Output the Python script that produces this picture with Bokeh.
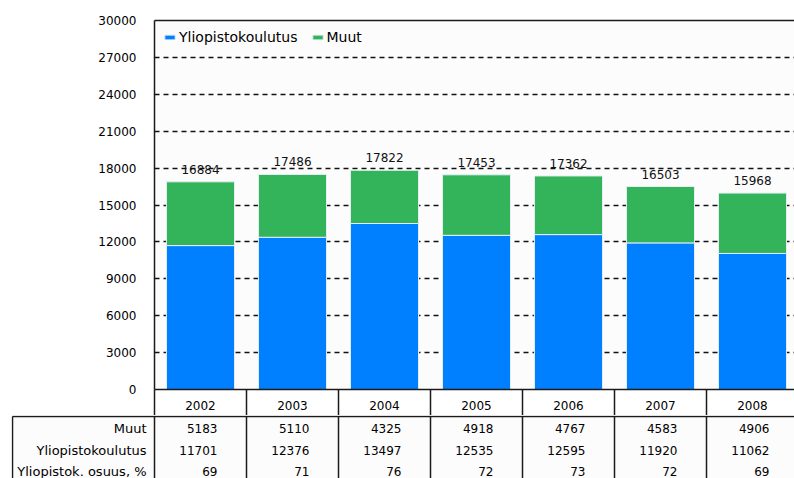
from bokeh.plotting import figure
from bokeh.models import ColumnDataSource, Range1d, FixedTicker, LinearAxis
from bokeh.layouts import column
from bokeh.core.properties import value
from bokeh.embed import file_html
from bokeh.resources import INLINE

# ---- data ----
years = ["2002", "2003", "2004", "2005", "2006", "2007", "2008"]
muut = [5183, 5110, 4325, 4918, 4767, 4583, 4906]
yliopisto = [11701, 12376, 13497, 12535, 12595, 11920, 11062]
osuus = [69, 71, 76, 72, 73, 72, 69]
row_labels = ["Muut", "Yliopistokoulutus", "Yliopistok. osuus, %"]
y_ticks = [0, 3000, 6000, 9000, 12000, 15000, 18000, 21000, 24000, 27000, 30000]

# ---- layout constants (pixels) ----
W = 794
FRAME_LEFT = 154          # frame starts at page x 154
CAT_PX = 92               # width of one category
TOP_BORDER = 20
PLOT_H = 369
AXIS_PANEL = 26
TOP_H = TOP_BORDER + PLOT_H + AXIS_PANEL
BOT_H = 478 - TOP_H
BOT_LEFT = 11             # bottom frame starts at page x 11
ROW_PX = 21.5
FIRST_ROW_PX = 13         # first table row centre, px below bottom frame top

FONT = value("DejaVu Sans")
LINE = "#1a1a1a"
BLUE = "#0080ff"
GREEN = "#33b35a"
BG = "#fcfcfc"

n = len(years)
x_end = (W - FRAME_LEFT) / CAT_PX
xs = [i + 0.5 for i in range(n)]
totals = [a + b for a, b in zip(muut, yliopisto)]

src = ColumnDataSource(dict(x=xs, yliopisto=yliopisto, muut=muut,
                            total=totals, label=[str(t) for t in totals]))

# ---- chart figure ----
p = figure(width=W, height=TOP_H, output_backend="svg", toolbar_location=None,
           x_range=Range1d(0, x_end), y_range=Range1d(0, 30000),
           min_border_left=FRAME_LEFT, min_border_right=0,
           min_border_top=TOP_BORDER, min_border_bottom=AXIS_PANEL,
           frame_align=False)
p.background_fill_color = BG
p.border_fill_color = "#ffffff"
p.outline_line_color = None

p.vbar_stack(["yliopisto", "muut"], x="x", width=0.74, source=src,
             color=[BLUE, GREEN], line_color="#e6eef6", line_width=1,
             legend_label=["Yliopistokoulutus", "Muut"])

p.text(x="x", y="total", text="label", source=src, text_align="center",
       text_baseline="bottom", y_offset=-8, text_font=FONT,
       text_font_size="12px", text_color="#111111")

# y axis
yax = p.yaxis[0]
yax.ticker = FixedTicker(ticks=y_ticks)
yax.major_tick_out = 0
yax.major_tick_in = 0
yax.minor_tick_out = 0
yax.minor_tick_in = 0
yax.axis_line_color = LINE
yax.axis_line_width = 1.5
yax.major_label_standoff = 18
yax.major_label_text_font = "DejaVu Sans"
yax.major_label_text_font_size = "12px"
yax.major_label_text_color = "#000000"

# x axis (year row of the table)
xax = p.xaxis[0]
xax.ticker = FixedTicker(ticks=xs, minor_ticks=list(range(0, n)))
xax.major_label_overrides = {x: y for x, y in zip(xs, years)}
xax.major_tick_out = 0
xax.major_tick_in = 0
xax.minor_tick_out = AXIS_PANEL
xax.minor_tick_in = 0
xax.minor_tick_line_color = LINE
xax.minor_tick_line_width = 1.5
xax.axis_line_color = LINE
xax.axis_line_width = 1.5
xax.major_label_standoff = -15
xax.major_label_text_font = "DejaVu Sans"
xax.major_label_text_font_size = "12px"
xax.major_label_text_color = "#000000"

# top border line
top_ax = LinearAxis(ticker=FixedTicker(ticks=[]), major_tick_out=0, major_tick_in=0,
                    minor_tick_out=0, minor_tick_in=0, major_label_standoff=0,
                    axis_line_color=LINE, axis_line_width=1.5)
p.add_layout(top_ax, "above")

p.xgrid.visible = False
p.ygrid.ticker = FixedTicker(ticks=y_ticks[1:-1])
p.ygrid.grid_line_color = "#111111"
p.ygrid.grid_line_dash = "5 4"
p.ygrid.grid_line_width = 1.5

leg = p.legend[0]
leg.location = "top_left"
leg.orientation = "horizontal"
leg.background_fill_alpha = 0
leg.border_line_alpha = 0
leg.glyph_width = 13
leg.glyph_height = 6
leg.label_height = 12
leg.label_standoff = 3
leg.spacing = 13
leg.padding = 7
leg.margin = 2
leg.label_text_font = "DejaVu Sans"
leg.label_text_font_size = "14px"
leg.label_text_color = "#000000"

# ---- table figure ----
bx_start = -(FRAME_LEFT - BOT_LEFT) / CAT_PX
r_top = -FIRST_ROW_PX / ROW_PX
r_bot = (BOT_H - FIRST_ROW_PX) / ROW_PX
t = figure(width=W, height=BOT_H, output_backend="svg", toolbar_location=None,
           x_range=Range1d(bx_start, x_end), y_range=Range1d(r_bot, r_top),
           x_axis_location=None, y_axis_location=None,
           min_border_left=BOT_LEFT, min_border_right=0,
           min_border_top=0, min_border_bottom=0, frame_align=False)
t.background_fill_color = BG
t.border_fill_color = "#ffffff"
t.outline_line_color = None
t.grid.visible = False

line_r = r_top + 1 / ROW_PX
left_x = bx_start + 1 / CAT_PX
# horizontal header line and vertical separators
t.segment(x0=[left_x], y0=[line_r], x1=[x_end], y1=[line_r],
          line_color=LINE, line_width=1.5)
vx = [left_x] + list(range(0, n))
t.segment(x0=vx, y0=[line_r] * len(vx), x1=vx, y1=[r_bot] * len(vx),
          line_color=LINE, line_width=1.5)

# row labels
lab_src = ColumnDataSource(dict(x=[-8 / CAT_PX] * len(row_labels),
                                r=list(range(len(row_labels))), text=row_labels))
t.text(x="x", y="r", text="text", source=lab_src, text_align="right",
       text_baseline="middle", text_font=FONT, text_font_size="13px",
       text_color="#000000")

# cell values
cx, cr, ct = [], [], []
for ri, series in enumerate([muut, yliopisto, osuus]):
    for ci, v in enumerate(series):
        cx.append(ci + 63 / CAT_PX)
        cr.append(ri)
        ct.append(str(v))
cell_src = ColumnDataSource(dict(x=cx, r=cr, text=ct))
t.text(x="x", y="r", text="text", source=cell_src, text_align="right",
       text_baseline="middle", text_font=FONT, text_font_size="12px",
       text_color="#000000")

layout = column(p, t, spacing=0)
open("out.html", "w").write(file_html(layout, INLINE))
